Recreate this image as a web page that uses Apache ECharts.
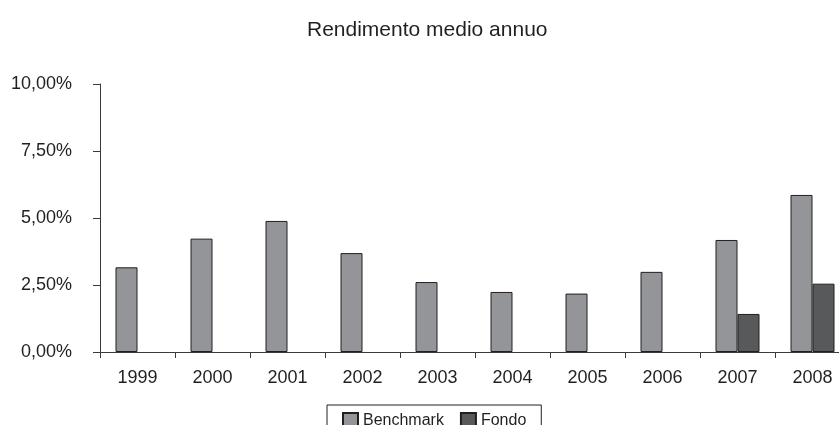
<!DOCTYPE html>
<html>
<head>
<meta charset="utf-8">
<script src="https://cdn.jsdelivr.net/npm/echarts@6/dist/echarts.min.js"></script>
<style>
html,body{margin:0;padding:0;background:#fff;overflow:hidden;width:839px;height:425px;}
#chart{width:860px;height:425px;}
</style>
</head>
<body>
<div id="chart"></div>
<script>
const titleText = 'Rendimento medio annuo';
const categories = ['1999','2000','2001','2002','2003','2004','2005','2006','2007','2008'];
const benchmark = [3.16, 4.23, 4.89, 3.69, 2.61, 2.24, 2.18, 2.99, 4.18, 5.86];
const fondo = [null, null, null, null, null, null, null, null, 1.42, 2.55];
const seriesNames = ['Benchmark', 'Fondo'];
const yTicks = [0, 2.5, 5, 7.5, 10];

const chart = echarts.init(document.getElementById('chart'), null, {renderer: 'canvas'});
const font = 'Arial, "Liberation Sans", sans-serif';
const ink = '#231f20';
chart.setOption({
  animation: false,
  backgroundColor: '#ffffff',
  title: {
    text: titleText,
    left: 302,
    top: 15,
    textStyle: {fontFamily: font, fontSize: 21, fontWeight: 'normal', color: ink}
  },
  legend: {
    data: seriesNames,
    left: 327,
    top: 405,
    padding: [7, 15, 5, 15],
    itemWidth: 15,
    itemHeight: 15,
    itemGap: 16,
    borderColor: ink,
    borderWidth: 1,
    icon: 'rect',
    textStyle: {fontFamily: font, fontSize: 16, color: ink}
  },
  grid: {left: 100, top: 84, width: 750, height: 268, containLabel: false},
  xAxis: {
    type: 'category',
    data: categories,
    axisLine: {lineStyle: {color: '#3a3a3a', width: 1}},
    axisTick: {show: true, length: 6, alignWithLabel: false, lineStyle: {color: '#3a3a3a'}},
    axisLabel: {fontFamily: font, fontSize: 18, color: ink, margin: 17}
  },
  yAxis: {
    type: 'value',
    min: yTicks[0],
    max: yTicks[yTicks.length - 1],
    interval: yTicks[1] - yTicks[0],
    axisLine: {show: true, lineStyle: {color: '#3a3a3a', width: 1}},
    axisTick: {show: true, length: 7, lineStyle: {color: '#3a3a3a'}},
    splitLine: {show: false},
    axisLabel: {
      fontFamily: font, fontSize: 18, color: ink, margin: 28,
      formatter: v => v.toFixed(2).replace('.', ',') + '%'
    }
  },
  series: [
    {
      name: seriesNames[0], type: 'bar', data: benchmark,
      barWidth: 22, barGap: '0%',
      itemStyle: {color: '#939598', borderColor: ink, borderWidth: 1}
    },
    {
      name: seriesNames[1], type: 'bar', data: fondo,
      barWidth: 22, barGap: '0%',
      itemStyle: {color: '#58595b', borderColor: ink, borderWidth: 1}
    }
  ]
});
</script>
</body>
</html>
